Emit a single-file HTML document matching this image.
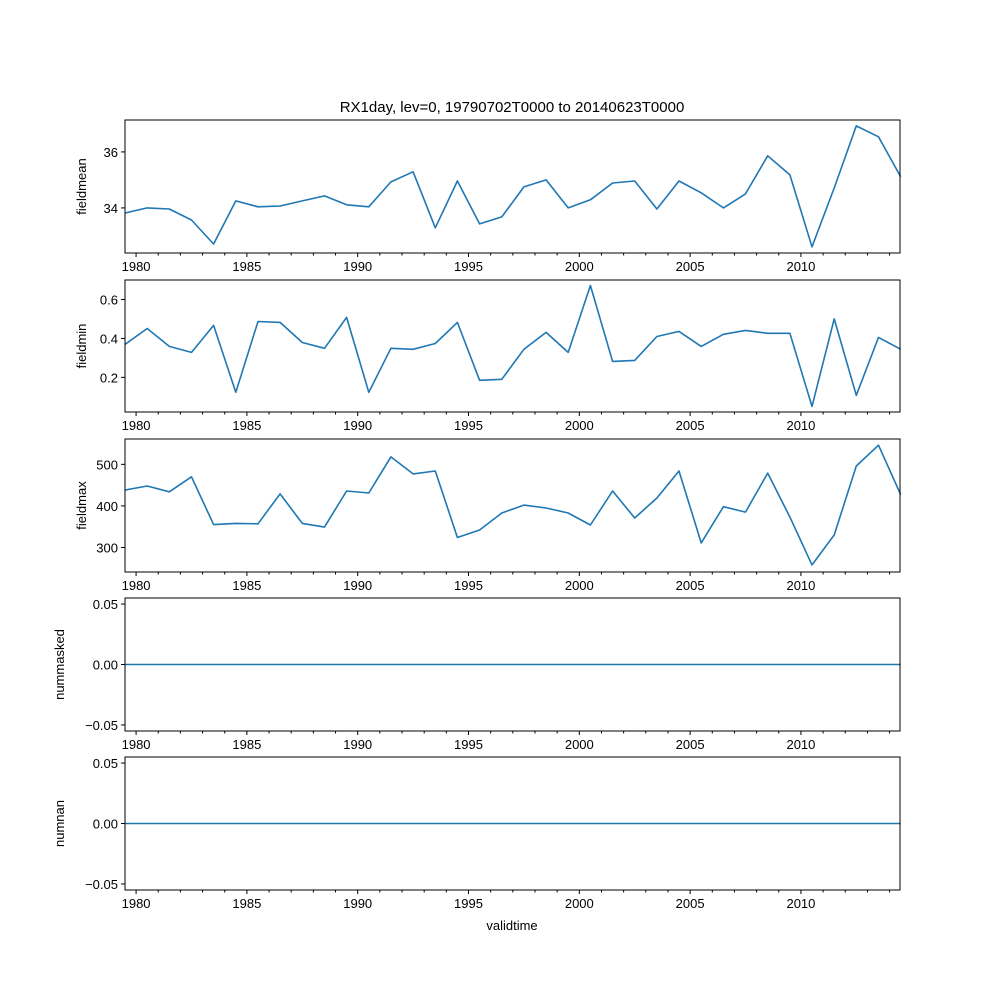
<!DOCTYPE html>
<html><head><meta charset="utf-8"><style>
body{margin:0;background:#fff}
svg{font-family:"Liberation Sans","DejaVu Sans",sans-serif}
</style></head><body>
<svg id="fig" width="1000" height="1000" xmlns="http://www.w3.org/2000/svg">
<rect width="1000" height="1000" fill="#fff"/>
<text x="512" y="112" font-size="15" text-anchor="middle">RX1day, lev=0, 19790702T0000 to 20140623T0000</text>
<text x="512" y="930" font-size="13" text-anchor="middle">validtime</text>
</svg>
<script>
const years = [];
for (let i = 0; i < 36; i++) years.push(1979.5 + i);
const fieldmean = [33.82,34.0,33.96,33.57,32.71,34.25,34.04,34.07,34.25,34.43,34.11,34.04,34.93,35.29,33.29,34.96,33.43,33.68,34.75,35.0,34.0,34.29,34.89,34.96,33.96,34.96,34.54,34.0,34.5,35.86,35.18,32.61,34.71,36.93,36.54,35.11];
const fieldmin = [0.369,0.451,0.359,0.328,0.467,0.123,0.487,0.482,0.379,0.349,0.508,0.123,0.349,0.344,0.374,0.482,0.185,0.19,0.344,0.431,0.328,0.672,0.282,0.287,0.41,0.436,0.359,0.421,0.441,0.426,0.426,0.051,0.5,0.108,0.405,0.344];
const fieldmax = [438,448,434,470,355,358,357,429,358,349,436,431,518,477,484,324,342,383,402,395,383,354,436,371,419,484,311,398,385,479,373,258,330,496,546,427];
const nummasked = new Array(36).fill(0);
const numnan = new Array(36).fill(0);
const majorTicks = [1980,1985,1990,1995,2000,2005,2010];

const NS = "http://www.w3.org/2000/svg";
const svg = document.getElementById("fig");
const X0 = 125, X1 = 900, T0 = 1979.5, T1 = 2014.47;
const xs = t => X0 + (t - T0) / (T1 - T0) * (X1 - X0);
function mk(tag, attrs, parent) {
  const e = document.createElementNS(NS, tag);
  for (const k in attrs) e.setAttribute(k, attrs[k]);
  (parent || svg).appendChild(e);
  return e;
}
const panels = [
  {name:"fieldmean", data:fieldmean, top:120, bot:253, lo:32.39, hi:37.14, ticks:[34,36], fmt:v=>String(v)},
  {name:"fieldmin", data:fieldmin, top:280, bot:412, lo:0.022, hi:0.7, ticks:[0.2,0.4,0.6], fmt:v=>v.toFixed(1)},
  {name:"fieldmax", data:fieldmax, top:439, bot:572, lo:241, hi:561, ticks:[300,400,500], fmt:v=>String(v)},
  {name:"nummasked", data:nummasked, top:598, bot:731, lo:-0.055, hi:0.055, ticks:[-0.05,0,0.05], fmt:v=>v===0?"0.00":(v<0?"\u22120.05":"0.05")},
  {name:"numnan", data:numnan, top:757, bot:890, lo:-0.055, hi:0.055, ticks:[-0.05,0,0.05], fmt:v=>v===0?"0.00":(v<0?"\u22120.05":"0.05")}
];
panels.forEach(p => {
  const g = mk("g", {});
  
  
  const ys = v => p.bot - (v - p.lo) / (p.hi - p.lo) * (p.bot - p.top);
  p.ticks.forEach(t => {
    const y = ys(t);
    mk("line", {x1:X0-4, x2:X0, y1:y, y2:y, stroke:"#000", "stroke-width":1}, g);
    const tx = mk("text", {x:X0-7, y:y+5, "font-size":13, "text-anchor":"end"}, g);
    tx.textContent = p.fmt(t);
    
    
  });
  for (let yr = 1980; yr <= 2014; yr++) {
    const x = xs(yr);
    const major = majorTicks.includes(yr);
    mk("line", {x1:x, x2:x, y1:p.bot, y2:p.bot + (major ? 4 : 2.5), stroke:"#000", "stroke-width":1}, g);
    if (major) {
      const tx = mk("text", {x:x, y:p.bot+18, "font-size":13, "text-anchor":"middle"}, g);
      tx.textContent = yr;
      
      
    }
  }
  const my = (p.top + p.bot) / 2;
  const lbl = mk("text", {x:0, y:0, "font-size":13, "text-anchor":"middle", transform:`translate(${p.name.startsWith("num") ? 64 : 86},${my}) rotate(-90)`}, g);
  lbl.textContent = p.name;
  
  
  const pts = p.data.map((v, i) => xs(years[i]).toFixed(1) + "," + ys(v).toFixed(1)).join(" ");
  const line = mk("polyline", {points:pts, fill:"none", stroke:"#1f77b4", "stroke-width":1.6, "stroke-linejoin":"round"}, g);
  
  
  const fr = mk("rect", {x:X0, y:p.top, width:X1-X0, height:p.bot-p.top, fill:"none", stroke:"#000", "stroke-width":1}, g);
  
  
});
</script>
</body></html>
